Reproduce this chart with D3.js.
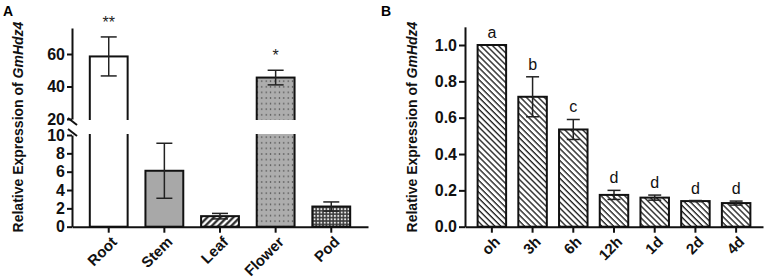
<!DOCTYPE html>
<html><head><meta charset="utf-8">
<script src="https://cdn.jsdelivr.net/npm/d3@7"></script>
<style>
html,body{margin:0;padding:0;background:#fff;}
svg text{font-family:"Liberation Sans",Arial,sans-serif;}
</style></head>
<body>
<svg id="chart" width="767" height="280"></svg>
<script>
// ---- data ----
const catsA = ["Root", "Stem", "Leaf", "Flower", "Pod"];
const valsA = [58.5, 6.1, 1.15, 45.5, 2.2];
const errA = [12, 3, 0.3, 4.5, 0.5];
const sigA = ["**", "", "", "*", ""];
const ticksAUpper = [20, 40, 60];
const ticksALower = [0, 2, 4, 6, 8, 10];

const catsB = ["oh", "3h", "6h", "12h", "1d", "2d", "4d"];
const valsB = [1.0, 0.715, 0.535, 0.175, 0.16, 0.141, 0.13];
const errB = [0, 0.11, 0.055, 0.025, 0.014, 0.003, 0.011];
const lettersB = ["a", "b", "c", "d", "d", "d", "d"];
const ticksB = [0, 0.2, 0.4, 0.6, 0.8, 1.0];

const fillsA = ["#fff", "#a8a8a8", "url(#hatchLeaf)", "url(#dotsFlower)", "url(#checkPod)"];

const svg = d3.select("#chart");
const defs = svg.append("defs");

// patterns
let p = defs.append("pattern").attr("id", "hatchLeaf").attr("patternUnits", "userSpaceOnUse")
  .attr("width", 4.6).attr("height", 4.6).attr("patternTransform", "rotate(45)");
p.append("rect").attr("width", 4.6).attr("height", 4.6).attr("fill", "#fff");
p.append("line").attr("x1", 1.3).attr("x2", 1.3).attr("y1", 0).attr("y2", 4.6).attr("stroke", "#1a1a1a").attr("stroke-width", 2.1);

p = defs.append("pattern").attr("id", "dotsFlower").attr("patternUnits", "userSpaceOnUse")
  .attr("width", 4.4).attr("height", 5.6);
p.append("rect").attr("width", 4.4).attr("height", 5.6).attr("fill", "#adadad");
p.append("rect").attr("x", 1.6).attr("y", 2.2).attr("width", 1.2).attr("height", 1.2).attr("fill", "#333");

p = defs.append("pattern").attr("id", "checkPod").attr("patternUnits", "userSpaceOnUse")
  .attr("width", 3.4).attr("height", 3.4);
p.append("rect").attr("width", 3.4).attr("height", 3.4).attr("fill", "#3c3c3c");
p.append("circle").attr("cx", 1.7).attr("cy", 1.7).attr("r", 1.05).attr("fill", "#e8e8e8");

p = defs.append("pattern").attr("id", "hatchB").attr("patternUnits", "userSpaceOnUse")
  .attr("width", 4.2).attr("height", 4.2).attr("patternTransform", "rotate(-45)");
p.append("rect").attr("width", 4.2).attr("height", 4.2).attr("fill", "#fff");
p.append("line").attr("x1", 1).attr("x2", 1).attr("y1", 0).attr("y2", 4.2).attr("stroke", "#222").attr("stroke-width", 1.4);

const AX = "#111";

// ================= Panel A =================
const baseY = 226.7;
const xA = d3.scaleBand().domain(catsA).range([72, 368]).paddingInner(0.32).paddingOuter(0.32);
const yLow = d3.scaleLinear().domain([0, 10]).range([baseY, 135]);
const yUp = d3.scaleLinear().domain([20, 76]).range([119, 28]);
const yA = v => v <= 10 ? yLow(v) : yUp(v);

const gA = svg.append("g");
// bars
gA.selectAll("rect.bar").data(catsA).join("rect")
  .attr("x", d => xA(d)).attr("width", xA.bandwidth())
  .attr("y", (d, i) => yA(valsA[i]))
  .attr("height", (d, i) => baseY - yA(valsA[i]))
  .attr("fill", (d, i) => fillsA[i])
  .attr("stroke", AX).attr("stroke-width", 2);
// error bars
const capA = 16;
catsA.forEach((c, i) => {
  const cx = xA(c) + xA.bandwidth() / 2;
  const hi = yA(valsA[i] + errA[i]), lo = yA(valsA[i] - errA[i]);
  gA.append("line").attr("x1", cx).attr("x2", cx).attr("y1", hi).attr("y2", lo).attr("stroke", "#222").attr("stroke-width", 1.5);
  gA.append("line").attr("x1", cx - capA / 2).attr("x2", cx + capA / 2).attr("y1", hi).attr("y2", hi).attr("stroke", "#222").attr("stroke-width", 1.5);
  gA.append("line").attr("x1", cx - capA / 2).attr("x2", cx + capA / 2).attr("y1", lo).attr("y2", lo).attr("stroke", "#222").attr("stroke-width", 1.5);
  if (sigA[i]) {
    gA.append("text").attr("x", cx).attr("y", hi - 9).attr("text-anchor", "middle")
      .attr("font-size", 16).attr("fill", "#222").text(sigA[i]);
  }
});
// break gap
gA.append("rect").attr("x", 60).attr("y", yUp(20) + 1).attr("width", 312).attr("height", yLow(10) - yUp(20) - 2).attr("fill", "#fff");

// y axes
function styleAxis(g, fs) {
  g.selectAll("path.domain").attr("stroke", AX).attr("stroke-width", 2);
  g.selectAll(".tick line").attr("stroke", AX).attr("stroke-width", 2);
  g.selectAll(".tick text").attr("font-size", fs).attr("font-weight", "bold").attr("fill", "#111")
    .style("font-family", '"Liberation Sans",Arial,sans-serif');
}
const gyU = gA.append("g").attr("transform", "translate(72,0)")
  .call(d3.axisLeft(yUp).tickValues(ticksAUpper).tickSize(5).tickPadding(2).tickSizeOuter(0));
styleAxis(gyU, 16);
const gyL = gA.append("g").attr("transform", "translate(72,0)")
  .call(d3.axisLeft(yLow).tickValues(ticksALower).tickSize(5).tickPadding(2).tickSizeOuter(0));
styleAxis(gyL, 16);
// break slashes
[yUp(20) + 2.5, yLow(10) - 2.5].forEach(yy => {
  gA.append("line").attr("x1", 68).attr("x2", 77).attr("y1", yy - 3.5).attr("y2", yy + 3.5)
    .attr("stroke", AX).attr("stroke-width", 2);
});
// x axis
const gxA = gA.append("g").attr("transform", `translate(0,${baseY})`)
  .call(d3.axisBottom(xA).tickSize(6).tickSizeOuter(0));
styleAxis(gxA, 15);
gxA.selectAll(".tick text").attr("text-anchor", "end")
  .attr("transform", "translate(6,13) rotate(-45)").attr("dy", "0.3em").attr("y", 0).attr("x", 0);

// y title A
svg.append("text").attr("transform", "translate(23,127) rotate(-90)").attr("text-anchor", "middle")
  .attr("font-size", 14).attr("font-weight", "bold").attr("fill", "#111")
  .call(t => { t.append("tspan").text("Relative Expression of "); t.append("tspan").attr("font-style", "italic").text("GmHdz4"); });
svg.append("text").attr("x", 3).attr("y", 16).attr("font-size", 14).attr("font-weight", "bold").text("A");

// ================= Panel B =================
const xB = d3.scaleBand().domain(catsB).range([465, 763]).paddingInner(0.30).paddingOuter(0.31);
const yB = d3.scaleLinear().domain([0, 1.1]).range([baseY, baseY - 1.1 * 181.7]);
const gB = svg.append("g");
gB.selectAll("rect.bar").data(catsB).join("rect")
  .attr("x", d => xB(d)).attr("width", xB.bandwidth())
  .attr("y", (d, i) => yB(valsB[i]))
  .attr("height", (d, i) => baseY - yB(valsB[i]))
  .attr("fill", "url(#hatchB)")
  .attr("stroke", AX).attr("stroke-width", 2);
const capB = 13;
catsB.forEach((c, i) => {
  const cx = xB(c) + xB.bandwidth() / 2;
  const hi = yB(valsB[i] + errB[i]), lo = yB(valsB[i] - errB[i]);
  if (errB[i] > 0) {
    gB.append("line").attr("x1", cx).attr("x2", cx).attr("y1", hi).attr("y2", lo).attr("stroke", "#222").attr("stroke-width", 1.5);
    gB.append("line").attr("x1", cx - capB / 2).attr("x2", cx + capB / 2).attr("y1", hi).attr("y2", hi).attr("stroke", "#222").attr("stroke-width", 1.5);
    gB.append("line").attr("x1", cx - capB / 2).attr("x2", cx + capB / 2).attr("y1", lo).attr("y2", lo).attr("stroke", "#222").attr("stroke-width", 1.5);
  }
  gB.append("text").attr("x", cx).attr("y", hi - 7).attr("text-anchor", "middle")
    .attr("font-size", 16).attr("fill", "#111").text(lettersB[i]);
});
const gyB = gB.append("g").attr("transform", "translate(465,0)")
  .call(d3.axisLeft(yB).tickValues(ticksB).tickFormat(d3.format(".1f")).tickSize(6).tickPadding(2).tickSizeOuter(0));
styleAxis(gyB, 16);
const gxB = gB.append("g").attr("transform", `translate(0,${baseY})`)
  .call(d3.axisBottom(xB).tickSize(6).tickSizeOuter(0));
styleAxis(gxB, 15);
gxB.selectAll(".tick text").attr("text-anchor", "end")
  .attr("transform", "translate(6,13) rotate(-45)").attr("dy", "0.3em").attr("y", 0).attr("x", 0);

svg.append("text").attr("transform", "translate(417,127) rotate(-90)").attr("text-anchor", "middle")
  .attr("font-size", 14).attr("font-weight", "bold").attr("fill", "#111")
  .call(t => { t.append("tspan").text("Relative Expression of "); t.append("tspan").attr("font-style", "italic").text("GmHdz4"); });
svg.append("text").attr("x", 381).attr("y", 16).attr("font-size", 14).attr("font-weight", "bold").text("B");
</script>
</body></html>
